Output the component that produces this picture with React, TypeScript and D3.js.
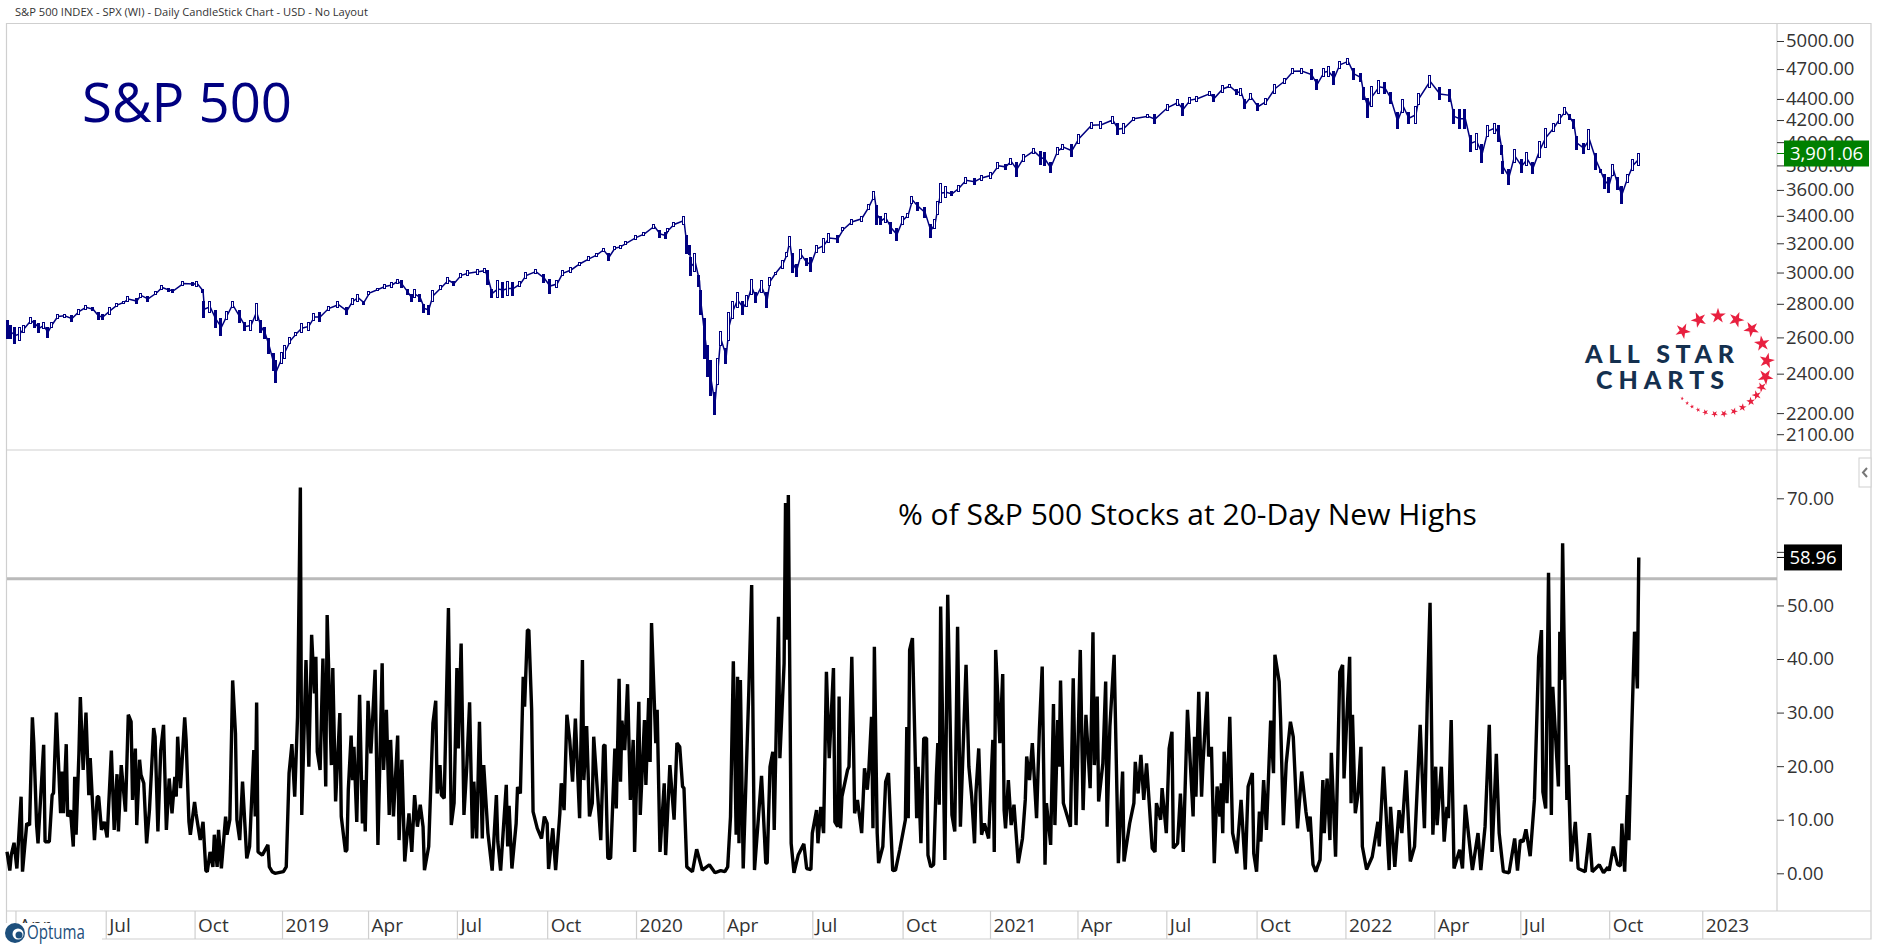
import React, { useRef, useEffect } from 'react';
import * as d3 from 'd3';

// x positions are trading sessions counted from the left edge of the chart
const monthLabels = ['Apr', 'Jul', 'Oct', '2019', 'Apr', 'Jul', 'Oct', '2020', 'Apr', 'Jul', 'Oct', '2021', 'Apr', 'Jul', 'Oct', '2022', 'Apr', 'Jul', 'Oct', '2023'];
const monthSessions = [6, 70, 133, 195, 256, 319, 383, 446, 508, 571, 635, 697, 759, 822, 886, 949, 1012, 1073, 1136, 1202];

const priceTicks = [5000, 4700, 4400, 4200, 4000, 3800, 3600, 3400, 3200, 3000, 2800, 2600, 2400, 2200, 2100];
const pctTicks = [0, 10, 20, 30, 40, 50, 60, 70];

const lastPrice = 3901.06;
const lastPct = 58.96;
const thresholdPct = 55;

// [session, high, low]
const spx2018 = [[1,2698,2591],[3,2668,2591],[6,2659,2563],[9,2659,2582],[12,2668,2629],[17,2718,2678],[20,2698,2659],[23,2678,2629],[26,2688,2649],[29,2659,2600],[32,2688,2659],[36,2737,2708],[41,2737,2718],[46,2727,2692],[51,2767,2737],[56,2790,2767],[61,2777,2757],[65,2747,2704],[68,2737,2702],[73,2777,2737],[78,2802,2782],[83,2817,2802],[86,2843,2817],[92,2832,2802],[95,2867,2838],[100,2845,2817],[106,2875,2860],[110,2914,2892],[115,2897,2875],[118,2892,2871],[125,2942,2914],[132,2937,2914],[135,2942,2910],[139,2892,2871],[140,2817,2718],[144,2817,2747],[148,2757,2659],[152,2708,2610],[156,2751,2704],[160,2812,2777],[165,2757,2688],[169,2688,2639],[173,2698,2639],[177,2802,2698],[180,2698,2629],[183,2659,2591],[186,2591,2507],[189,2507,2415],[191,2470,2354]];
const spx2019 = [[195,2516,2452],[197,2553,2479],[201,2600,2563],[205,2629,2610],[209,2678,2629],[214,2688,2639],[218,2742,2698],[222,2747,2692],[228,2785,2757],[235,2812,2777],[241,2777,2737],[245,2830,2797],[249,2860,2817],[253,2817,2797],[257,2875,2860],[263,2897,2882],[268,2920,2897],[273,2935,2903],[277,2954,2931],[280,2947,2903],[284,2892,2860],[287,2860,2812],[289,2888,2838],[293,2860,2817],[296,2797,2747],[299,2787,2737],[302,2882,2817],[308,2918,2888],[313,2968,2931],[317,2939,2918],[322,2995,2968],[327,3011,2979],[334,3020,2990],[339,3025,3000],[341,3011,2925],[344,2892,2838],[348,2947,2838],[352,2935,2838],[355,2942,2849],[359,2937,2854],[364,2942,2910],[368,3000,2960],[375,3018,2995],[381,2990,2935],[385,2957,2867],[390,2947,2903],[394,3011,2979],[400,3034,3000],[406,3069,3045],[413,3105,3081],[418,3129,3105],[423,3165,3141],[427,3129,3081],[431,3177,3153],[435,3184,3165],[439,3212,3188]];
const spx2020 = [[446,3255,3226],[452,3279,3255],[459,3338,3307],[463,3291,3243],[467,3279,3231],[469,3303,3284],[473,3351,3320],[480,3392,3338],[482,3258,3127],[484,3184,3119],[485,3103,2980],[488,3132,3005],[491,2980,2910],[492,2882,2737],[495,2712,2480],[497,2553,2385],[499,2470,2285],[502,2303,2192],[504,2479,2345],[506,2636,2553],[510,2535,2457],[512,2747,2582],[515,2817,2708],[518,2871,2777],[522,2817,2737],[525,2849,2785],[528,2951,2860],[531,2871,2810],[535,2947,2871],[539,2871,2777],[541,2968,2914],[545,3000,2990],[550,3081,3025],[553,3136,3105],[555,3250,3177],[557,3129,3000],[560,3057,2973],[563,3155,3091],[567,3091,3045],[570,3103,3005],[574,3184,3136],[579,3231,3136],[583,3267,3207],[589,3255,3207],[593,3310,3288],[599,3371,3338],[606,3396,3360],[611,3483,3444],[615,3585,3527],[617,3476,3338],[620,3396,3332],[623,3421,3351],[627,3351,3267],[631,3303,3222],[635,3396,3332],[639,3421,3389],[642,3545,3495],[646,3505,3437],[651,3460,3389],[655,3338,3243],[658,3371,3303],[660,3510,3411],[662,3650,3498],[666,3625,3537],[670,3585,3552],[675,3636,3590],[680,3703,3650],[686,3690,3642],[691,3717,3676]];
const spx2021 = [[698,3745,3690],[703,3825,3770],[708,3811,3765],[712,3856,3811],[716,3825,3709],[721,3893,3837],[728,3943,3902],[733,3922,3811],[736,3907,3800],[740,3825,3737],[745,3952,3893],[749,3977,3937],[755,3977,3872],[760,4068,3992],[769,4177,4126],[776,4187,4126],[784,4234,4167],[788,4166,4068],[792,4172,4077],[799,4228,4197],[809,4250,4219],[814,4250,4167],[823,4344,4291],[830,4391,4335],[834,4360,4241],[839,4417,4360],[844,4423,4380],[853,4474,4430],[856,4440,4373],[862,4532,4464],[867,4543,4508],[872,4491,4440],[875,4498,4437],[878,4390,4312],[882,4450,4390],[887,4360,4291],[893,4407,4344],[899,4543,4457],[906,4602,4553],[912,4703,4651],[918,4703,4658],[925,4693,4592],[929,4592,4497],[934,4710,4626],[937,4728,4626],[941,4675,4540],[945,4780,4710]];
const spx2022 = [[951,4816,4745],[955,4710,4592],[960,4651,4575],[962,4508,4390],[965,4407,4228],[968,4525,4326],[973,4582,4457],[977,4558,4457],[981,4464,4360],[986,4266,4118],[990,4390,4266],[994,4266,4167],[999,4328,4172],[1001,4457,4344],[1009,4635,4515],[1016,4508,4390],[1023,4497,4373],[1026,4297,4172],[1030,4297,4126],[1034,4297,4126],[1038,4060,3920],[1042,4081,3937],[1046,3977,3825],[1050,4146,4050],[1055,4172,4081],[1058,4146,4005],[1060,3972,3893],[1061,3837,3730],[1065,3765,3645],[1069,3937,3825],[1074,3850,3739],[1078,3907,3795],[1082,3825,3730],[1087,4005,3865],[1091,4126,3950],[1097,4167,4097],[1101,4250,4172],[1105,4319,4250],[1108,4250,4209],[1111,4203,4126],[1113,4050,3937],[1118,3992,3902],[1122,4110,3937],[1127,3902,3768],[1130,3765,3739],[1133,3725,3615],[1136,3698,3582],[1139,3811,3717],[1142,3698,3602],[1145,3630,3492],[1149,3725,3658],[1153,3850,3754],[1157,3902,3800]];

// [session, % of stocks at 20-day highs]
const highs2018 = [[0,4],[2,0.5],[3,3.4],[5,5.7],[7,0.9],[10,14.3],[11,0.3],[14,9.3],[16,9],[18,29.1],[19,24.3],[21,9],[22,5.6],[26,24],[27,5.9],[30,5.9],[32,14.6],[33,15],[35,30],[38,11.2],[39,19],[40,11.2],[42,24.1],[43,10.6],[45,11.8],[47,5],[48,18],[49,7.2],[51,22.4],[52,32.9],[54,19.3],[56,30],[58,14.6],[59,21.5],[62,6.2],[64,14.3],[65,14.3],[67,8.1],[69,9.6],[71,6.7],[74,22.9],[76,8.1],[78,18.5],[79,7.8],[81,20.2],[84,11.5],[86,29.6],[88,28.3],[89,13.7],[91,23.3],[92,9],[94,21.2],[95,18.4],[97,16.8],[99,5.6],[101,11.8],[104,27.1],[105,25.5],[107,7.8],[109,23],[111,27.7],[113,8.1],[115,17.7],[117,11.2],[119,18],[120,14.3],[121,25.5],[123,15.9],[126,29.1],[127,24.9],[129,9.6],[130,7.2],[133,13.3],[134,11.2],[137,6.2],[139,9.6],[141,0.5],[142,0.3],[144,4],[146,1.2],[147,7.2],[149,1.2],[150,8.1],[152,0.9],[155,10.6],[156,7.2],[158,10],[160,36],[162,26.1],[163,10],[165,6.2],[167,17.1],[170,2.8],[172,5],[175,23],[176,10.6],[177,31.9],[178,4],[181,3.4],[185,5.3],[186,1.2],[188,0.3],[190,0]];
const highs2019 = [[196,0.3],[198,1.2],[200,18.7],[202,24.1],[204,14.3],[206,29.2],[208,72],[209,10.9],[212,39.8],[214,19.9],[216,44.5],[218,33.6],[219,40.4],[220,22.7],[222,19.3],[224,40.1],[226,16.2],[227,48.2],[230,20.2],[231,38.3],[233,13.4],[236,29.9],[237,10.6],[240,4],[241,4.4],[242,15.6],[244,25.7],[245,17.4],[246,23.6],[248,9.6],[250,33.3],[252,9.3],[253,17.4],[254,7.8],[256,32.2],[258,22.4],[261,38],[263,5.3],[266,39.2],[267,19.3],[269,30.5],[271,10.9],[272,24.9],[274,10.6],[277,25.7],[278,6.2],[280,21.2],[282,2.2],[285,11.2],[287,4],[289,14.6],[291,8.7],[293,12.8],[295,8.7],[296,0.6],[299,5],[302,28],[304,32.2],[305,14.9],[307,20.2],[308,14.6],[310,14],[313,49.5],[315,9],[317,13.1],[319,38.3],[320,23.3],[322,42.9],[324,10.9],[326,19.9],[328,31.9],[330,6.5],[331,17.1],[333,6.5],[335,28.3],[337,6.5],[338,20.2],[341,7.5],[344,0.5],[347,14.6],[348,5.9],[350,0.5],[354,16.5],[355,5],[356,12.6],[358,0.9],[361,9.3],[362,16.1],[364,14.9],[366,36.7],[367,31.1],[369,45.4],[370,45.4],[372,30.5],[373,11.5],[376,8.4],[379,6.5],[381,10.6],[383,9.3],[384,0.8],[387,8.4],[389,0.6],[392,11.2],[393,16.8],[395,11.8],[397,29.6],[399,24.9],[401,17.1],[403,28.9],[406,10.3],[408,39.8],[409,17.4],[411,27.5],[413,10.6],[415,13.1],[416,25.5],[421,6.2],[423,23.8],[424,24],[426,2.8],[428,2.8],[431,23.3],[432,12.1],[434,36.3],[435,17.1],[436,28.5],[438,23],[440,35.3],[442,13.7],[444,24.9],[445,4]];
const highs2020 = [[448,32],[449,10.9],[452,28.6],[453,16.5],[455,32.7],[456,20.8],[457,46.7],[460,24.3],[461,30.5],[463,4],[466,16.8],[467,3.4],[470,20.2],[473,10],[475,24.3],[477,23.6],[479,16.2],[480,15.9],[482,1.2],[486,0.3],[489,4.5],[493,0.6],[498,1.6],[502,0.1],[506,0.5],[509,0.3],[511,1.2],[513,10.6],[515,39.6],[517,7.2],[518,36.7],[519,5.6],[520,36.1],[522,0.9],[526,34.2],[528,53.8],[530,0.6],[535,18.2],[538,1.9],[539,1.9],[541,19.9],[543,22.7],[544,8.1],[547,47.9],[548,21.5],[551,39.2],[552,69.1],[553,43.6],[554,70.6],[556,5.6],[558,0.1],[561,3.4],[565,5.5],[567,0.9],[570,0.7],[571,7.5],[574,11.8],[575,5.6],[577,12.4],[579,7.5],[581,37.6],[583,21.5],[586,38.3],[587,9.6],[589,8.7],[590,33],[591,8.4],[592,14.3],[596,19.3],[597,19.9],[599,40.4],[600,27.4],[601,11.2],[603,13.7],[606,7.5],[608,19.6],[610,15.6],[611,19],[613,29.2],[614,8.4],[615,42.3],[617,7.5],[618,1.9],[621,5],[623,17.1],[625,18.7],[628,0.5],[630,0.6],[633,4.4],[637,10],[638,27.3],[639,10.3],[640,41.7],[642,43.9],[645,10.3],[646,19.9],[648,5.6],[650,25.2],[652,25.2],[653,3.4],[655,1.2],[657,1.6],[659,18.4],[660,24.3],[661,12.8],[662,49.8],[665,2.5],[667,52],[670,10.9],[672,7.8],[674,46],[676,8.7],[677,16.2],[680,38.9],[682,19.9],[684,14.3],[686,5.6],[687,14.9],[689,23.3],[691,7.2],[693,9.3],[696,6.5]];
const highs2021 = [[699,24.9],[700,4],[701,41.7],[704,24.3],[706,37.2],[707,11.8],[708,8.4],[710,17.4],[712,9],[714,12.8],[717,1.9],[720,6.5],[722,13.7],[723,21.8],[725,17.4],[727,24.3],[730,10.3],[732,26.8],[734,38.6],[736,1.6],[737,13.1],[740,5.3],[742,31.6],[743,9],[745,28.6],[746,19.9],[747,36],[749,13.1],[754,8.7],[756,36.4],[758,9],[761,41.7],[763,11.8],[765,29.6],[768,15.9],[770,45],[771,20.2],[773,33],[774,13.4],[777,20.5],[779,35.8],[780,8.7],[782,27.4],[785,40.8],[788,1.9],[791,19],[792,2.2],[796,9.3],[799,13.1],[800,20.8],[802,14.9],[804,22.1],[806,13.7],[808,20.5],[812,4.7],[814,4],[815,13.1],[818,10],[819,15.9],[822,7.5],[824,23.3],[826,26.4],[827,4.7],[830,5.6],[832,14.9],[834,4],[837,30.5],[841,10.6],[842,25.5],[843,14.3],[845,33.9],[847,14.3],[848,20.5],[851,33.9],[852,21.8],[854,23.6],[856,1.9],[858,16.2],[860,10.6],[861,16.8],[862,7.5],[863,22.7],[865,13.1],[867,29.2],[869,7.5],[872,3.7],[875,13.7],[878,0.7],[880,16.2],[883,18.7],[884,3.7],[886,0.3],[888,11.5],[889,5.9],[891,17.4],[893,8.1],[896,28.5],[898,18.7],[899,40.8],[902,35.8],[903,28.9],[905,9],[907,20.5],[910,28.3],[912,25.5],[913,19.9],[915,8.4],[918,19],[921,11.5],[923,7.8],[924,10.6],[926,1.6],[928,0.3],[931,2.5],[933,17.4],[934,7.5],[936,17.7],[938,6.2],[939,22.5],[942,3.1],[945,37.6],[947,38.9],[948,17.7]];
const highs2022 = [[952,40.4],[953,13.1],[954,29.6],[956,11.2],[958,14.9],[960,23.6],[961,5],[964,0.7],[968,3.1],[972,9.6],[973,5],[976,19.9],[980,0.6],[981,12.4],[984,1.2],[987,11.8],[989,7.5],[992,19.2],[995,2.2],[998,5],[1002,27.7],[1005,8.4],[1007,31.7],[1009,50.5],[1011,7.2],[1013,19.9],[1014,9],[1017,19.9],[1019,5.9],[1021,12.4],[1022,10.3],[1024,28.6],[1026,0.9],[1030,4.4],[1032,0.9],[1034,12.8],[1039,0.6],[1043,7.5],[1045,0.6],[1048,8.7],[1051,27.7],[1053,4],[1056,22.3],[1058,7.5],[1061,0.3],[1065,0.1],[1069,6.5],[1071,0.5],[1073,6.2],[1075,5.9],[1077,8.2],[1080,3.2],[1083,13.7],[1086,40.4],[1088,45.4],[1089,15.2],[1091,12.1],[1093,56.1],[1095,10.9],[1096,34.8],[1100,16.2],[1101,45.1],[1102,36.1],[1103,61.6],[1104,44.2],[1106,13.7],[1107,20.2],[1109,2.2],[1112,9.6],[1114,0.9],[1119,0.3],[1122,7.5],[1124,0.3],[1129,1.6],[1132,0.1],[1135,1.1],[1136,0.5],[1139,5],[1142,1.6],[1144,1.4],[1145,9.3],[1147,0.3],[1149,14.6],[1150,6.2],[1152,26.8],[1154,45.1],[1156,34.5],[1157,58.96]];

// logo stars: angle clockwise from the top, size
const starAngles = [-46, -23, 0, 22, 43, 64, 85, 104, 117, 128, 138, 150, 161, 173, 184, 195, 204, 212, 219, 227];
const starSizes = [75, 75, 75, 75, 75, 75, 75, 75, 32, 28, 24, 20, 18, 16, 14, 12, 7, 6, 5, 4];

const FONT = '"Open Sans", sans-serif';
const NAVY = '#000080';
const TEXT = '#333333';
const RULE = '#cfcfcf';

const App = () => {
  const chartRef = useRef(null);

  useEffect(() => {
    const svg = d3.select(chartRef.current);
    const left = 7, right = 1777, edge = 1871, top = 23.5, mid = 450, bottom = 911, base = 939;

    const x = d3.scaleLinear().domain([0, 1255]).range([left, right]);
    const yPrice = d3.scaleLog().domain([5197, 2028]).range([top, mid]);
    const yPct = d3.scaleLinear().domain([0, 70]).range([873.3, 498.3]);

    const spx = [...spx2018, ...spx2019, ...spx2020, ...spx2021, ...spx2022];
    const highs = [...highs2018, ...highs2019, ...highs2020, ...highs2021, ...highs2022];

    // frame
    const frame = svg.append('g').attr('stroke', RULE).attr('stroke-width', 1.2);
    frame.append('path').attr('fill', 'none').attr('d', `M${left - 0.5},${bottom + 12}V${top}H${edge}V${base}H102`);
    frame.append('line').attr('x1', left).attr('x2', edge).attr('y1', mid).attr('y2', mid);
    frame.append('line').attr('x1', left).attr('x2', edge).attr('y1', bottom).attr('y2', bottom);
    frame.append('line').attr('x1', right).attr('x2', right).attr('y1', top).attr('y2', bottom);

    svg.append('text').attr('x', 15).attr('y', 16).attr('font-size', 11.15).attr('fill', TEXT).attr('font-family', FONT)
      .text('S&P 500 INDEX - SPX (WI) - Daily CandleStick Chart - USD - No Layout');
    svg.append('text').attr('x', 82).attr('y', 122).attr('font-size', 54.5).attr('fill', NAVY).attr('font-family', FONT)
      .text('S&P 500');
    svg.append('text').attr('x', 898).attr('y', 525).attr('font-size', 30).attr('fill', '#000').attr('font-family', FONT)
      .text('% of S&P 500 Stocks at 20-Day New Highs');

    // price pane: hollow when the session rose, solid when it fell
    const midPrice = (d: number[]) => (d[1] + d[2]) / 2;
    const priceLine = d3.line<number[]>().x(d => x(d[0])).y(d => yPrice(midPrice(d)));
    svg.append('path').attr('d', priceLine(spx)).attr('fill', 'none').attr('stroke', NAVY).attr('stroke-width', 1.5);
    svg.append('g').attr('shape-rendering', 'crispEdges').selectAll('rect').data(spx).enter().append('rect')
      .attr('x', d => Math.round(x(d[0])) - 1.5)
      .attr('width', 2)
      .attr('y', d => yPrice(d[1]))
      .attr('height', d => yPrice(d[2]) - yPrice(d[1]))
      .attr('fill', (d, i) => (i > 0 && midPrice(d) > midPrice(spx[i - 1]) ? '#fff' : NAVY))
      .attr('stroke', NAVY)
      .attr('stroke-width', 1);

    // breadth pane
    svg.append('line').attr('x1', left).attr('x2', right).attr('y1', yPct(thresholdPct)).attr('y2', yPct(thresholdPct))
      .attr('stroke', '#bababa').attr('stroke-width', 3);
    const pctLine = d3.line<number[]>().x(d => x(d[0])).y(d => yPct(d[1]));
    svg.append('path').attr('d', pctLine(highs)).attr('fill', 'none').attr('stroke', '#000')
      .attr('stroke-width', 3.4).attr('stroke-linejoin', 'bevel');

    // axes
    const styleAxis = (g: any) => {
      g.select('.domain').remove();
      g.selectAll('line').attr('stroke', TEXT);
      g.selectAll('text').attr('fill', TEXT).attr('font-size', 18.5).attr('font-family', FONT);
    };
    svg.append('g').attr('transform', `translate(${right},0)`)
      .call(d3.axisRight(yPrice).tickValues(priceTicks).tickFormat(d3.format('.2f')).tickSize(7).tickPadding(2))
      .call(styleAxis);
    svg.append('g').attr('transform', `translate(${right},0)`)
      .call(d3.axisRight(yPct).tickValues(pctTicks).tickFormat(d3.format('.2f')).tickSize(7).tickPadding(3))
      .call(styleAxis);

    const xAxis = svg.append('g').attr('transform', `translate(0,${bottom})`)
      .call(d3.axisBottom(x).tickValues(monthSessions).tickSize(28).tickFormat((_, i) => monthLabels[i]));
    xAxis.call(styleAxis);
    xAxis.selectAll('line').attr('stroke', RULE).attr('stroke-width', 1.2);
    xAxis.selectAll('text').attr('font-size', 19).attr('text-anchor', 'start').attr('x', 3).attr('y', 21).attr('dy', 0);

    // last value flags
    const lastY = yPrice(lastPrice);
    svg.append('line').attr('x1', right).attr('x2', right + 8).attr('y1', lastY).attr('y2', lastY).attr('stroke', '#008000');
    svg.append('rect').attr('x', 1784).attr('y', lastY - 13).attr('width', 85).attr('height', 26).attr('fill', '#008000');
    svg.append('text').attr('x', 1826.5).attr('y', lastY + 6.5).attr('text-anchor', 'middle').attr('fill', '#fff')
      .attr('font-size', 18.5).attr('font-family', FONT).text(d3.format(',.2f')(lastPrice));
    const pctY = yPct(lastPct);
    svg.append('line').attr('x1', right).attr('x2', right + 8).attr('y1', pctY).attr('y2', pctY).attr('stroke', '#000');
    svg.append('rect').attr('x', 1784).attr('y', pctY - 13).attr('width', 58).attr('height', 26).attr('fill', '#000');
    svg.append('text').attr('x', 1813).attr('y', pctY + 6.5).attr('text-anchor', 'middle').attr('fill', '#fff')
      .attr('font-size', 18.5).attr('font-family', FONT).text(d3.format('.2f')(lastPct));

    // collapse button
    svg.append('rect').attr('x', 1859).attr('y', 458).attr('width', 12).attr('height', 29).attr('fill', '#fff').attr('stroke', RULE);
    svg.append('path').attr('d', 'M1867,468L1863,472.5L1867,477').attr('fill', 'none').attr('stroke', '#777').attr('stroke-width', 2);

    // All Star Charts logo
    const logo = svg.append('g');
    logo.append('text').attr('x', 1585).attr('y', 363).attr('font-size', 25).attr('font-weight', 900)
      .attr('letter-spacing', 5.6).attr('fill', '#14304f').attr('font-family', 'Lato, sans-serif').text('ALL STAR');
    logo.append('text').attr('x', 1596).attr('y', 389).attr('font-size', 25).attr('font-weight', 900)
      .attr('letter-spacing', 6).attr('fill', '#14304f').attr('font-family', 'Lato, sans-serif').text('CHARTS');
    const star = d3.symbol().type(d3.symbolStar);
    logo.selectAll('path').data(starAngles).enter().append('path')
      .attr('d', (_, i) => star.size(starSizes[i])())
      .attr('fill', '#e8203f')
      .attr('transform', d => {
        const a = (d * Math.PI) / 180;
        return `translate(${1718 + 49 * Math.sin(a)},${365 - 49 * Math.cos(a)}) rotate(${d})`;
      });

    // Optuma badge over the corner of the date axis
    const badge = svg.append('g');
    badge.append('rect').attr('x', 0).attr('y', 923).attr('width', 102).attr('height', 24).attr('fill', '#fff');
    badge.append('circle').attr('cx', 15).attr('cy', 933).attr('r', 10).attr('fill', '#1d4f7c');
    badge.append('circle').attr('cx', 18).attr('cy', 934).attr('r', 5.5).attr('fill', '#fff');
    badge.append('circle').attr('cx', 19).attr('cy', 935).attr('r', 3.5).attr('fill', '#1d4f7c');
    badge.append('text').attr('x', 27).attr('y', 939).attr('font-size', 19.5).attr('fill', '#1d4f7c')
      .attr('font-family', FONT).attr('textLength', 58).attr('lengthAdjust', 'spacingAndGlyphs').text('Optuma');

    return () => {
      svg.selectAll('*').remove();
    };
  }, []);

  return (
    <svg ref={chartRef} width={1878} height={947} style={{ position: 'absolute', left: 0, top: 0, background: '#fff' }} />
  );
};

export default App;
